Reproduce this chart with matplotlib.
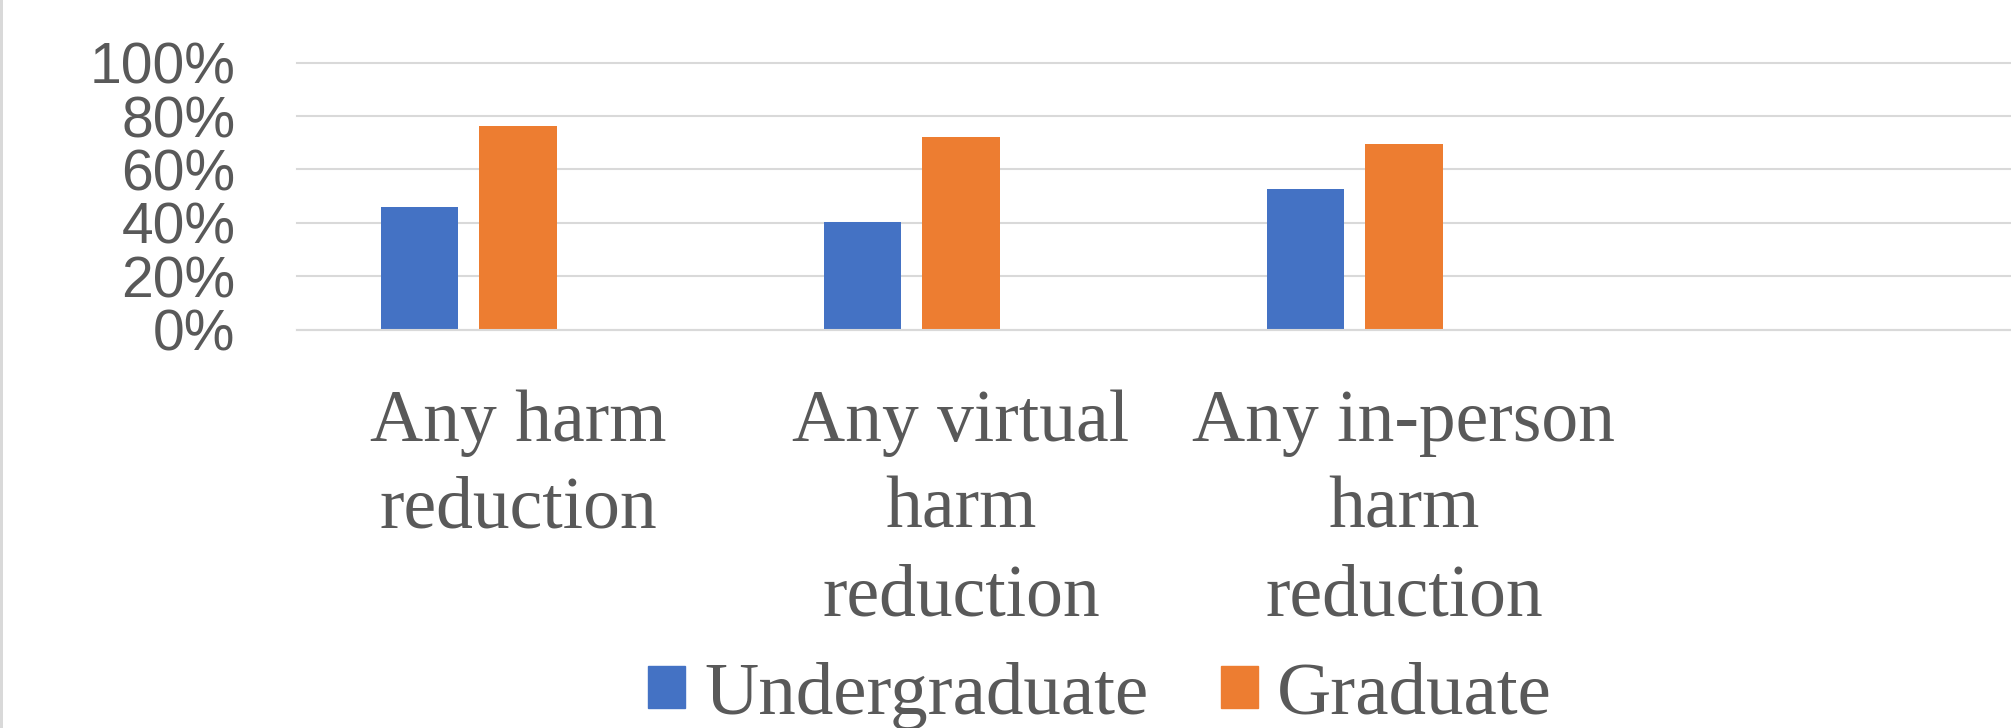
import matplotlib
matplotlib.use("Agg")
import matplotlib.pyplot as plt
from matplotlib.patches import Patch, Rectangle
from matplotlib.ticker import PercentFormatter

categories = ["Any harm\nreduction", "Any virtual\nharm\nreduction", "Any in-person\nharm\nreduction"]
series_names = ["Undergraduate", "Graduate"]
undergrad = [0.461, 0.404, 0.528]
graduate = [0.764, 0.722, 0.696]
y_ticks = [0, 0.2, 0.4, 0.6, 0.8, 1.0]

BLUE = "#4472C4"
ORANGE = "#ED7D31"
TEXT = "#595959"
GRID = "#D9D9D9"
SERIF = ["Liberation Serif", "DejaVu Serif"]
NARROW = ["Liberation Sans Narrow", "Liberation Sans", "DejaVu Sans"]

W, H, DPI = 2011, 728, 100
fig = plt.figure(figsize=(W / DPI, H / DPI), dpi=DPI)

# plot area in pixels; one empty category slot runs off the right edge
left_px, slot_px, n_slots = 296.5, 443.0, 4
y0_px, y100_px = 329.7, 62.7
ax = fig.add_axes([left_px / W, 1 - y0_px / H, n_slots * slot_px / W, (y0_px - y100_px) / H])

step = 0.222
bar_w = 0.175
xs = list(range(len(categories)))
ax.bar([x - step for x in xs], undergrad, width=bar_w, color=BLUE, zorder=2)
ax.bar(xs, graduate, width=bar_w, color=ORANGE, zorder=2)

ax.set_xlim(-0.5, n_slots - 0.5)
ax.set_ylim(0, 1)
ax.set_yticks(y_ticks)
ax.yaxis.set_major_formatter(PercentFormatter(1.0, decimals=0))
ax.set_xticks(xs)
ax.set_xticklabels(categories, fontfamily=SERIF, fontsize=53, color=TEXT, linespacing=1.38)

ax.tick_params(axis="x", length=0, pad=43)
ax.tick_params(axis="y", length=0, pad=44, labelsize=41, labelcolor=TEXT)
for lbl in ax.get_yticklabels():
    lbl.set_fontfamily(NARROW)

ax.grid(axis="y", color=GRID, linewidth=1.5, zorder=0)
ax.set_axisbelow(True)
for t in ax.yaxis.get_major_ticks():
    t.gridline.set_clip_on(False)
for side in ["left", "right", "top"]:
    ax.spines[side].set_visible(False)
ax.spines["bottom"].set_color(GRID)
ax.spines["bottom"].set_linewidth(1.5)
ax.spines["bottom"].set_zorder(3)

handles = [Patch(color=BLUE), Patch(color=ORANGE)]
fig.legend(handles, series_names, loc="center", bbox_to_anchor=(1100 / W, 1 - 696 / H),
           ncol=2, frameon=False, prop={"family": SERIF, "size": 54}, labelcolor=TEXT,
           handlelength=0.49, handleheight=0.49, handletextpad=0.26, columnspacing=0.97,
           borderpad=0, borderaxespad=0)

# chart border on the left edge
fig.add_artist(Rectangle((0, 0), 2.5 / W, 1, transform=fig.transFigure, color=GRID, linewidth=0))

fig.savefig("out.png", dpi=DPI, facecolor="white")
